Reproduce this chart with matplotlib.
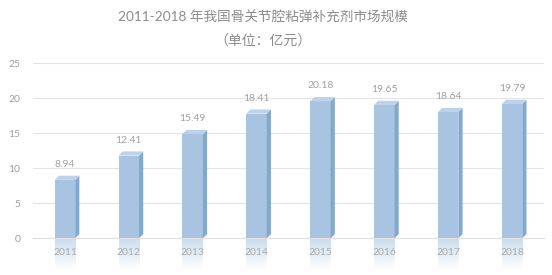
import matplotlib
matplotlib.use("Agg")
import matplotlib.pyplot as plt
from matplotlib.patches import Polygon, Rectangle
import numpy as np

years = ["2011", "2012", "2013", "2014", "2015", "2016", "2017", "2018"]
values = [8.94, 12.41, 15.49, 18.41, 20.18, 19.65, 18.64, 19.79]
yticks = [0, 5, 10, 15, 20, 25]

plt.rcParams['font.family'] = ['Lato', 'Noto Sans CJK SC', 'DejaVu Sans']

fig = plt.figure(figsize=(5.52, 2.75), dpi=100)
ax = fig.add_axes([0.0598, 0.1335, 0.9257, 0.6363])

front_c = "#a9c4e0"
side_c = "#7fa9d5"
top_c = "#bed3ea"
txt_c = "#a0a0a0"

w = 0.32
dx = 0.065
dy = 0.6

x = np.arange(len(years))
for xi, v in zip(x, values):
    h = v - dy
    x0 = xi - w / 2
    x1 = xi + w / 2
    ax.add_patch(Rectangle((x0, 0), w, h, facecolor=front_c, edgecolor="none", zorder=3))
    ax.add_patch(Polygon([(x1, 0), (x1 + dx, dy), (x1 + dx, v), (x1, h)],
                         closed=True, facecolor=side_c, edgecolor="none", zorder=3))
    ax.add_patch(Polygon([(x0, h), (x1, h), (x1 + dx, v), (x0 + dx, v)],
                         closed=True, facecolor=top_c, edgecolor="none", zorder=3))
    ax.text(xi, v + 1.6, f"{v:.2f}", ha="center", va="center", fontsize=7.5, color=txt_c, zorder=4)
    # reflection
    grad = np.linspace(0.6, 0.0, 64).reshape(-1, 1)
    rgba = np.zeros((64, 1, 4))
    rgba[..., 0] = 0xa9 / 255
    rgba[..., 1] = 0xc4 / 255
    rgba[..., 2] = 0xe0 / 255
    rgba[..., 3] = grad
    ax.imshow(rgba, extent=(x0, x1, -4.5, 0), aspect="auto", origin="upper",
              clip_on=False, zorder=1, interpolation="bilinear")

ax.set_xlim(-0.5, len(years) - 0.5)
ax.set_ylim(0, 25)
ax.set_yticks(yticks)
ax.set_yticklabels([str(t) for t in yticks])
ax.set_xticks(x)
ax.set_xticklabels(years)
ax.tick_params(axis="both", length=0, labelsize=7.5, labelcolor=txt_c)
ax.tick_params(axis="y", pad=9)
ax.tick_params(axis="x", pad=7)
ax.grid(axis="y", color="#e4e4e4", linewidth=0.8, zorder=0)
ax.set_axisbelow(True)
for s in ["top", "right", "left"]:
    ax.spines[s].set_visible(False)
ax.spines["bottom"].set_color("#e0e0e0")
ax.spines["bottom"].set_linewidth(0.8)

fig.text(0.477, 0.938, "2011-2018 年我国骨关节腔粘弹补充剂市场规模", ha="center", va="center",
         fontsize=9.8, color="#8c8c8c")
fig.text(0.477, 0.85, "（单位：亿元）", ha="center", va="center", fontsize=10, color="#8c8c8c",
         family=['Noto Sans CJK SC', 'DejaVu Sans'])

fig.savefig("out.png", dpi=100, facecolor="white")
